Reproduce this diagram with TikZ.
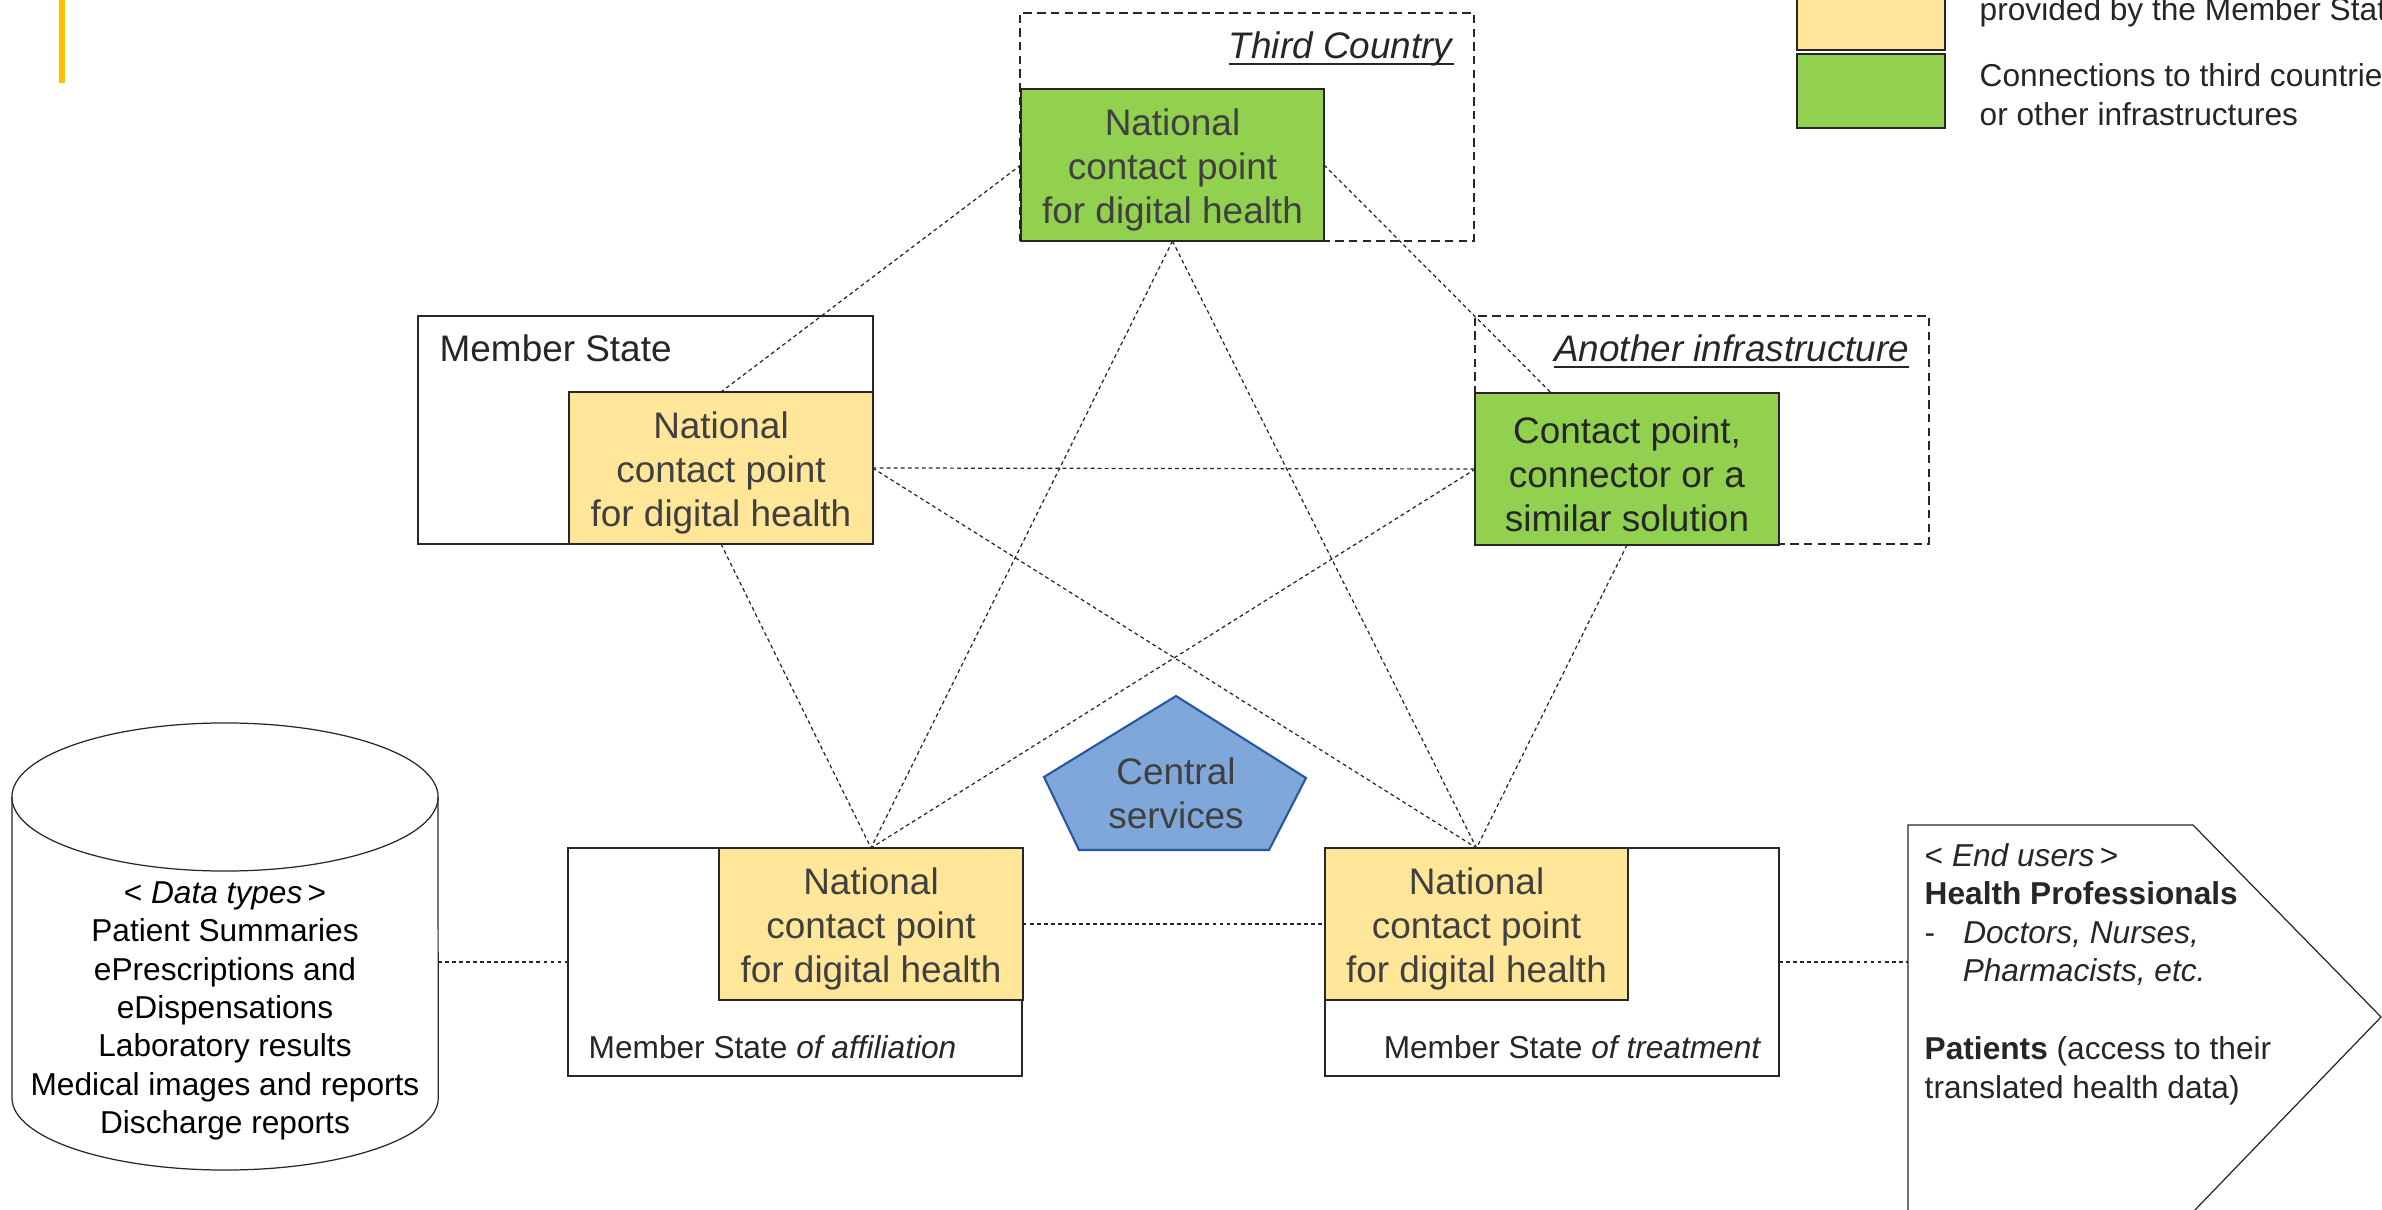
\documentclass[tikz,border=0pt]{standalone}
\usepackage{fontspec}
\setmainfont{Liberation Sans}
\usetikzlibrary{backgrounds}

\definecolor{ncpyellow}{HTML}{FFE699}
\definecolor{ncpgreen}{HTML}{92D050}
\definecolor{edgegray}{HTML}{262626}
\definecolor{textgray}{HTML}{404040}
\definecolor{centralblue}{HTML}{7FA7D9}
\definecolor{centralline}{HTML}{2757A3}
\definecolor{barorange}{HTML}{FFC000}

\newcommand{\ncpfont}{\fontsize{10.5}{12.5}\selectfont}
\newcommand{\listfont}{\fontsize{9}{10.9}\selectfont}
\newcommand{\legendfont}{\fontsize{9}{11}\selectfont}
\newcommand{\ulabel}[1]{\setbox0\hbox{#1}\rlap{\rule[-1.6pt]{\wd0}{0.5pt}}\box0}
\newcommand{\ncpstrut}{\rule{0pt}{10.5pt}}

\begin{document}
\begin{tikzpicture}[x=0.01cm,y=0.01cm,
	ncp/.style={rectangle, draw=edgegray, line width=0.6pt, inner sep=0pt, outer sep=0pt, minimum width=3.03cm, minimum height=1.52cm, align=center, font=\ncpfont, text=textgray},
	msbox/.style={rectangle, draw=edgegray, line width=0.6pt, inner sep=0pt, outer sep=0pt, minimum width=4.54cm, minimum height=2.28cm},
	extbox/.style={msbox, dash pattern=on 2.4pt off 1.5pt},
	legbox/.style={rectangle, draw=edgegray, line width=0.6pt, inner sep=0pt, minimum width=1.48cm, minimum height=0.74cm},
	label/.style={inner sep=0pt, text=edgegray},
	outline/.style={draw=edgegray, line width=0.35pt},
	link/.style={draw=edgegray, line width=0.35pt, dash pattern=on 1.1pt off 0.9pt}]

	\useasboundingbox (0,0) rectangle (2382,-1210);
	\clip (0,0) rectangle (2382,-1210);

	\fill[barorange] (59,0) rectangle (65,-83);

	% legend
	\node 	(legyellow)	at	(1871,-13)	[legbox, fill=ncpyellow]{};
	\node 	(leggreen)	at	(1871,-91)	[legbox, fill=ncpgreen]{};
	\node 	(legyellowtxt)	at	(1979,-21)	[label, anchor=base west, font=\legendfont]{provided by the Member States};
	\node 	(leggreentxt)	at	(1979,-63)	[label, anchor=north west, align=left, font=\legendfont]{Connections to third countries\\or other infrastructures};

	% third country
	\node 	(thirdbox)	at	(1247,-127)	[extbox]{};
	\node 	(thirdlabel)	at	(1455,-59)	[label, anchor=base east, font=\ncpfont]{\ulabel{\textit{Third Country}}};
	\node 	(ncptop)	at	(1172.5,-165)	[ncp, fill=ncpgreen]{\ncpstrut National\\contact point\\for digital health};

	% member state
	\node 	(msupper)	at	(645.5,-430)	[msbox]{};
	\node 	(msupperlabel)	at	(439,-362)	[label, anchor=base west, font=\ncpfont]{Member State};
	\node 	(ncpleft)	at	(721,-468)	[ncp, fill=ncpyellow]{\ncpstrut National\\contact point\\for digital health};

	% another infrastructure
	\node 	(infrabox)	at	(1702,-430)	[extbox]{};
	\node 	(infralabel)	at	(1910,-362)	[label, anchor=base east, font=\ncpfont]{\ulabel{\textit{Another infrastructure}}};
	\node 	(ncpright)	at	(1627,-469)	[ncp, fill=ncpgreen, text=edgegray]{\ncpstrut Contact point,\\connector or a\\similar solution};

	% member state of affiliation
	\node 	(msaff)		at	(795,-962)	[msbox]{};
	\node 	(ncpaff)	at	(871,-924)	[ncp, fill=ncpyellow]{\ncpstrut National\\contact point\\for digital health};
	\node 	(msafflabel)	at	(588,-1058)	[label, anchor=base west, font=\listfont]{Member State \textit{of affiliation}};

	% member state of treatment
	\node 	(mstreat)	at	(1552,-962)	[msbox]{};
	\node 	(ncptreat)	at	(1476.5,-924)	[ncp, fill=ncpyellow]{\ncpstrut National\\contact point\\for digital health};
	\node 	(mstreatlabel)	at	(1762,-1058)	[label, anchor=base east, font=\listfont]{Member State \textit{of treatment}};

	% central services
	\filldraw[fill=centralblue, draw=centralline, line width=0.6pt] (1176,-696) -- (1306,-778) -- (1269,-850) -- (1079,-850) -- (1044,-777) -- cycle;
	\node 	(central)	at	(1176,-793)	[align=center, font=\ncpfont, text=textgray, inner sep=0pt]{Central\\services};

	% data types
	\draw[outline] (225,-797) ellipse [x radius=2.13cm, y radius=0.74cm];
	\draw[outline] (12,-797) -- (12,-1098) arc[start angle=180, end angle=360, x radius=2.13cm, y radius=0.72cm] -- (438,-797);
	\node 	(datatypes)	at	(225,-1011)	[align=center, font=\listfont, inner sep=0pt]{< \textit{Data types}\,>\\Patient Summaries\\ePrescriptions and\\eDispensations\\Laboratory results\\Medical images and reports\\Discharge reports};
	\coordinate (cylright) at (438,-962);

	% end users
	\draw[outline] (1908,-1215) -- (1908,-825) -- (2193,-825) -- (2381,-1017) -- (2193,-1212);
	\node 	(endusers)	at	(1924,-843)	[label, anchor=north west, align=left, font=\listfont]{< \textit{End users}\,>\\\textbf{Health Professionals}\\-\hspace{0.28cm}\textit{Doctors, Nurses,}\\\hspace*{0.38cm}\textit{Pharmacists, etc.}\\[11.3pt]\textbf{Patients} (access to their\\translated health data)};
	\coordinate (usersleft) at (1908,-962);

	\begin{pgfonlayer}{background}
	\draw[link] (ncptop.west) -- (ncpleft.north);
	\draw[link] (ncptop.east) -- (ncpright.center);
	\draw[link] (ncptop.south) -- (ncpaff.north);
	\draw[link] (ncptop.south) -- (ncptreat.north);
	\draw[link] (ncpleft.east) -- (ncpright.west);
	\draw[link] (ncpleft.east) -- (ncptreat.north);
	\draw[link] (ncpleft.south) -- (ncpaff.north);
	\draw[link] (ncpright.west) -- (ncpaff.north);
	\draw[link] (ncpright.south) -- (ncptreat.north);
	\draw[link] (ncpaff.east) -- (ncptreat.west);
	\draw[link] (cylright) -- (msaff.west);
	\draw[link] (mstreat.east) -- (usersleft);
	\end{pgfonlayer}

\end{tikzpicture}
\end{document}
